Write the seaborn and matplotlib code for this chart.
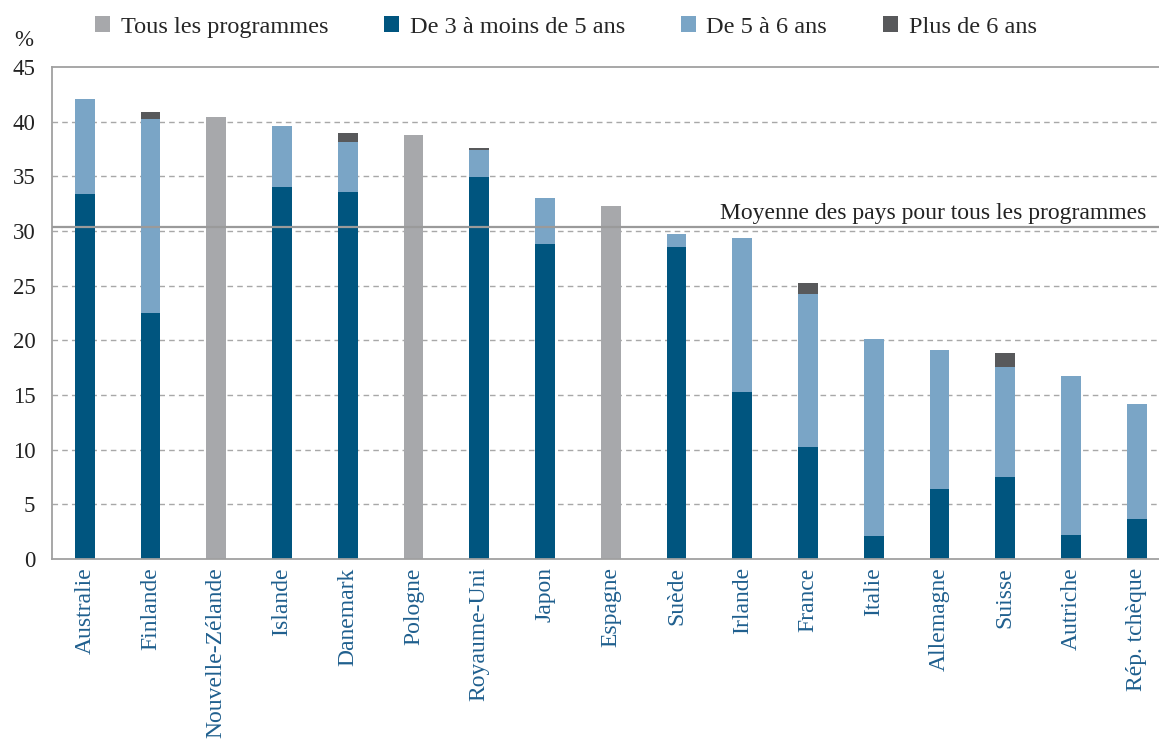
import numpy as np
import pandas as pd
import seaborn as sns
import matplotlib
matplotlib.use("Agg")
import matplotlib.pyplot as plt
from matplotlib.patches import Patch

countries = ["Australie", "Finlande", "Nouvelle-Zélande", "Islande", "Danemark",
             "Pologne", "Royaume-Uni", "Japon", "Espagne", "Suède", "Irlande",
             "France", "Italie", "Allemagne", "Suisse", "Autriche", "Rép. tchèque"]
tous = [0, 0, 40.4, 0, 0, 38.8, 0, 0, 32.3, 0, 0, 0, 0, 0, 0, 0, 0]
age_3_5 = [33.4, 22.5, 0, 34.0, 33.6, 0, 34.9, 28.8, 0, 28.5, 15.3, 10.2, 2.1, 6.4, 7.5, 2.2, 3.7]
age_5_6 = [8.7, 17.7, 0, 5.6, 4.55, 0, 2.5, 4.2, 0, 1.2, 14.1, 14.0, 18.0, 12.7, 10.05, 14.5, 10.5]
plus_6 = [0, 0.7, 0, 0, 0.85, 0, 0.15, 0, 0, 0, 0, 1.0, 0, 0, 1.25, 0, 0]
moyenne = 30.35
yticks = [0, 5, 10, 15, 20, 25, 30, 35, 40, 45]

labels = ["Tous les programmes", "De 3 à moins de 5 ans", "De 5 à 6 ans", "Plus de 6 ans"]
c_tous, c_35, c_56, c_p6 = "#a7a8ab", "#00557f", "#7aa5c6", "#58595b"

sns.set_theme(style="white")
plt.rcParams["font.family"] = ["Liberation Serif", "DejaVu Serif"]

df = pd.DataFrame({"pays": countries, "tous": tous, "a": age_3_5, "b": age_5_6, "c": plus_6})
df["l_total"] = df["a"] + df["b"] + df["c"]
df["l_ab"] = df["a"] + df["b"]

fig = plt.figure(figsize=(11.59, 7.42), dpi=100)
W, H = 1159, 742
ax = fig.add_axes([52 / W, 1 - 559 / H, (W - 52) / W, (559 - 67) / H])

common = dict(x="pays", order=countries, width=0.3, linewidth=0, ax=ax, errorbar=None)
sns.barplot(data=df, y="l_total", color=c_p6, saturation=1, **common)
sns.barplot(data=df, y="tous", color=c_tous, saturation=1, **common)
sns.barplot(data=df, y="l_ab", color=c_56, saturation=1, **common)
sns.barplot(data=df, y="a", color=c_35, saturation=1, **common)

ax.set_xlim(-0.5, 16.34)
ax.set_ylim(0, 45)
ax.set_yticks(yticks)
ax.set_yticklabels([str(v) for v in yticks], fontsize=16.5, color="#222222")
for y in yticks[1:-1]:
    ax.axhline(y, color="#a8a8a8", lw=1.0, ls=(0, (4, 3)), zorder=0)
ax.axhline(moyenne, color="#9a9a9a", lw=1.6, zorder=3)
ax.text(16.15, moyenne + 0.3, "Moyenne des pays pour tous les programmes",
        ha="right", va="bottom", fontsize=17, color="#222222")

ax.set_xlabel("")
ax.set_ylabel("")
ax.tick_params(axis="x", rotation=90, labelsize=17, labelcolor="#1f5f8e", length=0, pad=6)
ax.tick_params(axis="y", length=0, pad=12)
for s in ["left", "bottom", "top"]:
    ax.spines[s].set_color("#a0a0a0")
    ax.spines[s].set_linewidth(1.3)
ax.spines["right"].set_visible(False)

fig.text(14 / W, 1 - 40 / H, "%", fontsize=16.5, color="#222222", va="center")

handles = [Patch(facecolor=c, edgecolor="none") for c in [c_tous, c_35, c_56, c_p6]]
fig.legend(handles, labels, loc="center", bbox_to_anchor=(566 / W, 1 - 27 / H), ncol=4,
           frameon=False, fontsize=17.5, handlelength=0.6, handleheight=0.6,
           handletextpad=0.45, columnspacing=2.3)

fig.savefig("out.png", dpi=100)
